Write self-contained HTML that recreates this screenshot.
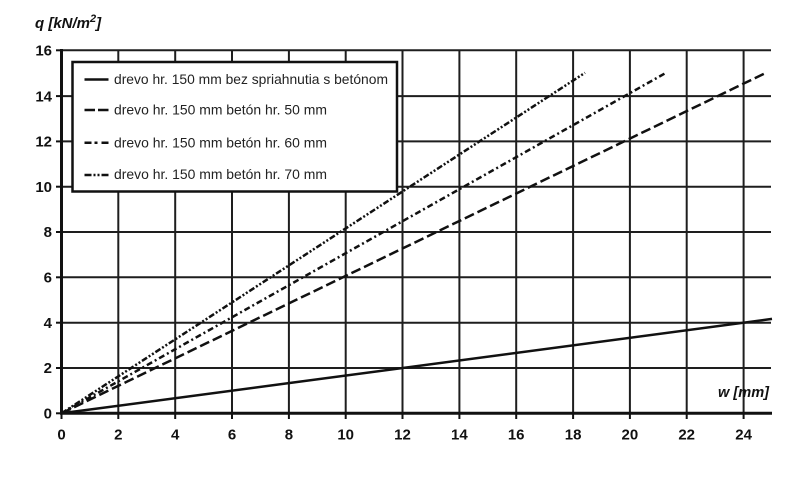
<!DOCTYPE html>
<html><head><meta charset="utf-8"><style>
html,body{margin:0;padding:0;background:#fff;}
svg{display:block;}
</style></head><body>
<svg width="800" height="484" viewBox="0 0 800 484" xmlns="http://www.w3.org/2000/svg">
<rect width="800" height="484" fill="#fff"/>
<g stroke="#1e1e1e" stroke-width="2" fill="none">
<!-- vertical grid -->
<line x1="118.3" y1="50" x2="118.3" y2="413"/>
<line x1="175.2" y1="50" x2="175.2" y2="413"/>
<line x1="232" y1="50" x2="232" y2="413"/>
<line x1="288.9" y1="50" x2="288.9" y2="413"/>
<line x1="345.7" y1="50" x2="345.7" y2="413"/>
<line x1="402.5" y1="50" x2="402.5" y2="413"/>
<line x1="459.4" y1="50" x2="459.4" y2="413"/>
<line x1="516.2" y1="50" x2="516.2" y2="413"/>
<line x1="573.1" y1="50" x2="573.1" y2="413"/>
<line x1="629.9" y1="50" x2="629.9" y2="413"/>
<line x1="686.7" y1="50" x2="686.7" y2="413"/>
<line x1="743.6" y1="50" x2="743.6" y2="413"/>
<!-- horizontal grid -->
<line x1="61.5" y1="368" x2="771" y2="368"/>
<line x1="61.5" y1="322.7" x2="771" y2="322.7"/>
<line x1="61.5" y1="277.3" x2="771" y2="277.3"/>
<line x1="61.5" y1="232" x2="771" y2="232"/>
<line x1="61.5" y1="186.7" x2="771" y2="186.7"/>
<line x1="61.5" y1="141.4" x2="771" y2="141.4"/>
<line x1="61.5" y1="96.1" x2="771" y2="96.1"/>
<line x1="61.5" y1="50.3" x2="771" y2="50.3"/>
</g>
<!-- axes -->
<g stroke="#111" stroke-width="3" fill="none">
<line x1="61.5" y1="49" x2="61.5" y2="414.5"/>
<line x1="60" y1="413.3" x2="772" y2="413.3"/>
</g>
<!-- ticks -->
<g stroke="#111" stroke-width="2">
<line x1="56" y1="413.3" x2="61" y2="413.3"/>
<line x1="56" y1="368" x2="61" y2="368"/>
<line x1="56" y1="322.7" x2="61" y2="322.7"/>
<line x1="56" y1="277.3" x2="61" y2="277.3"/>
<line x1="56" y1="232" x2="61" y2="232"/>
<line x1="56" y1="186.7" x2="61" y2="186.7"/>
<line x1="56" y1="141.4" x2="61" y2="141.4"/>
<line x1="56" y1="96.1" x2="61" y2="96.1"/>
<line x1="56" y1="50.3" x2="61" y2="50.3"/>
<line x1="61.5" y1="414" x2="61.5" y2="419"/>
<line x1="118.3" y1="414" x2="118.3" y2="419"/>
<line x1="175.2" y1="414" x2="175.2" y2="419"/>
<line x1="232" y1="414" x2="232" y2="419"/>
<line x1="288.9" y1="414" x2="288.9" y2="419"/>
<line x1="345.7" y1="414" x2="345.7" y2="419"/>
<line x1="402.5" y1="414" x2="402.5" y2="419"/>
<line x1="459.4" y1="414" x2="459.4" y2="419"/>
<line x1="516.2" y1="414" x2="516.2" y2="419"/>
<line x1="573.1" y1="414" x2="573.1" y2="419"/>
<line x1="629.9" y1="414" x2="629.9" y2="419"/>
<line x1="686.7" y1="414" x2="686.7" y2="419"/>
<line x1="743.6" y1="414" x2="743.6" y2="419"/>
</g>
<!-- series -->
<g stroke="#111" stroke-width="2.5" fill="none">
<line x1="61.5" y1="413.3" x2="772" y2="318.9"/>
<line x1="61.5" y1="413.3" x2="767" y2="72.3" stroke-dasharray="10 4"/>
<line x1="61.5" y1="413.3" x2="666" y2="72.8" stroke-dasharray="6 3 2 3"/>
<line x1="61.5" y1="413.3" x2="585" y2="72.8" stroke-dasharray="6 2 2 2 2 2"/>
</g>
<!-- legend -->
<rect x="72.5" y="62" width="324.5" height="129.5" fill="#fff" stroke="#111" stroke-width="2.5"/>
<g stroke="#111" stroke-width="2.5" fill="none">
<line x1="84.5" y1="79.5" x2="108.5" y2="79.5"/>
<line x1="84.5" y1="110" x2="108.5" y2="110" stroke-dasharray="10.5 3"/>
<line x1="84.5" y1="142.7" x2="108.5" y2="142.7" stroke-dasharray="7 3 3 4 7 3"/>
<line x1="84.5" y1="175" x2="108.5" y2="175" stroke-dasharray="7 2 2 2 2 2 7"/>
</g>
<g font-family="Liberation Sans, sans-serif" font-size="14" fill="#222">
<text x="114" y="84" textLength="274" lengthAdjust="spacingAndGlyphs">drevo hr. 150 mm bez spriahnutia s betónom</text>
<text x="114" y="114.5" textLength="213" lengthAdjust="spacingAndGlyphs">drevo hr. 150 mm betón hr. 50 mm</text>
<text x="114" y="147.7" textLength="213" lengthAdjust="spacingAndGlyphs">drevo hr. 150 mm betón hr. 60 mm</text>
<text x="114" y="179" textLength="213" lengthAdjust="spacingAndGlyphs">drevo hr. 150 mm betón hr. 70 mm</text>
</g>
<!-- tick labels -->
<g font-family="Liberation Sans, sans-serif" font-size="15" font-weight="bold" fill="#111" text-anchor="end">
<text x="52" y="418.5">0</text>
<text x="52" y="373.2">2</text>
<text x="52" y="327.9">4</text>
<text x="52" y="282.5">6</text>
<text x="52" y="237.2">8</text>
<text x="52" y="191.9">10</text>
<text x="52" y="146.6">12</text>
<text x="52" y="101.3">14</text>
<text x="52" y="55.5">16</text>
</g>
<g font-family="Liberation Sans, sans-serif" font-size="15" font-weight="bold" fill="#111" text-anchor="middle">
<text x="61.5" y="439.5">0</text>
<text x="118.3" y="439.5">2</text>
<text x="175.2" y="439.5">4</text>
<text x="232" y="439.5">6</text>
<text x="288.9" y="439.5">8</text>
<text x="345.7" y="439.5">10</text>
<text x="402.5" y="439.5">12</text>
<text x="459.4" y="439.5">14</text>
<text x="516.2" y="439.5">16</text>
<text x="573.1" y="439.5">18</text>
<text x="629.9" y="439.5">20</text>
<text x="686.7" y="439.5">22</text>
<text x="743.6" y="439.5">24</text>
</g>
<!-- axis titles -->
<text x="35" y="28" font-family="Liberation Sans, sans-serif" font-size="15" font-weight="bold" font-style="italic" fill="#111">q [kN/m<tspan font-size="11" dy="-6">2</tspan><tspan dy="6">]</tspan></text>
<text x="718" y="397" font-family="Liberation Sans, sans-serif" font-size="14.5" font-weight="bold" font-style="italic" fill="#111" textLength="51" lengthAdjust="spacingAndGlyphs">w [mm]</text>
</svg>
</body></html>
